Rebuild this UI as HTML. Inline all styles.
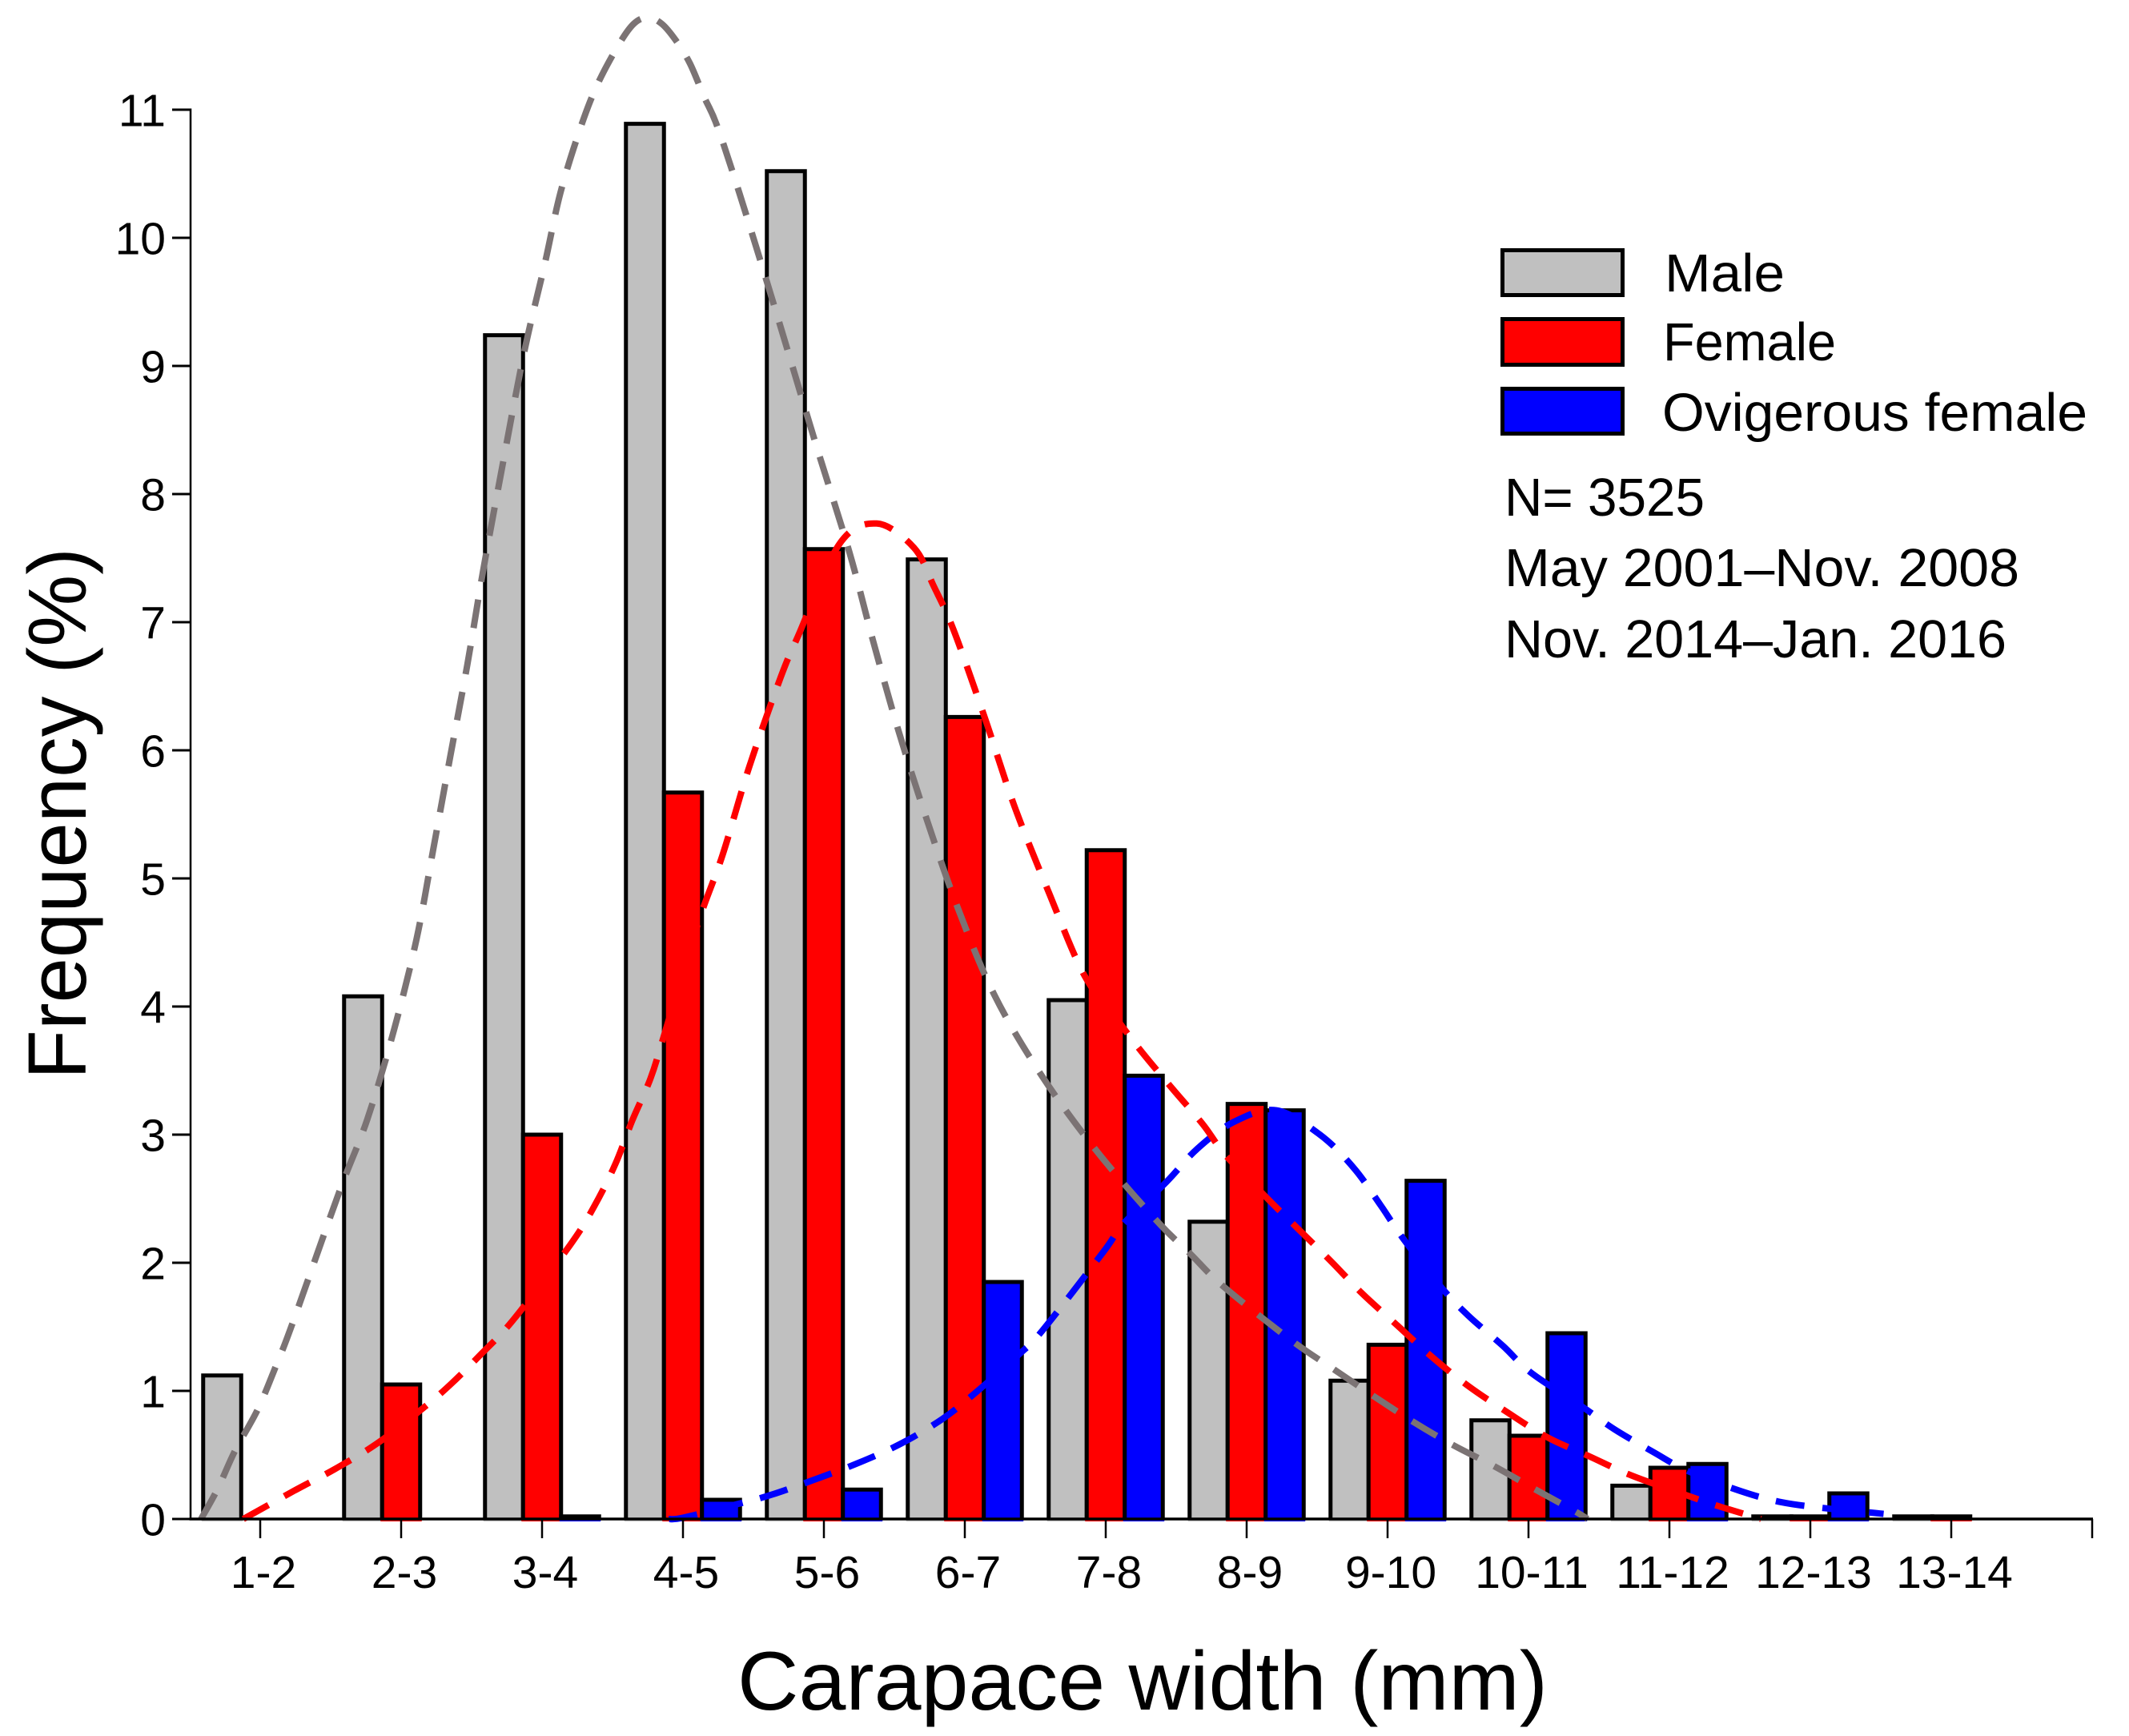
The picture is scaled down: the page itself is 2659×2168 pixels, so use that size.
<!DOCTYPE html>
<html lang="en">
<head>
<meta charset="utf-8">
<title>Carapace width frequency</title>
<style>
html,body{margin:0;padding:0;background:#fff;}
svg{display:block;}
text{fill:#000;}
.tick{font-family:"Liberation Sans",Arial,sans-serif;font-size:57px;}
.cal{font-family:"Liberation Sans",Arial,sans-serif;}
</style>
</head>
<body>
<svg id="chart" xmlns="http://www.w3.org/2000/svg" width="2659" height="2168" viewBox="0 0 2659 2168">
  <rect x="0" y="0" width="2659" height="2168" fill="#fff"/>
  <g id="bars"></g>
  <g id="curves"></g>
  <g id="axes"></g>

  <text class="cal" transform="translate(107,1348) rotate(-90)" font-size="103" textLength="664" lengthAdjust="spacingAndGlyphs">Frequency (%)</text>
  <text class="cal" x="921" y="2135" font-size="104" textLength="1012" lengthAdjust="spacingAndGlyphs">Carapace width (mm)</text>

  <g>
    <rect x="1876.5" y="312.5" width="150" height="56" fill="#c0c0c0" stroke="#000" stroke-width="5"/>
    <rect x="1876.5" y="398.5" width="150" height="57" fill="#ff0000" stroke="#000" stroke-width="5"/>
    <rect x="1876.5" y="485.5" width="150" height="56" fill="#0000ff" stroke="#000" stroke-width="5"/>
    <text class="cal" x="2079" y="364" font-size="67" textLength="150" lengthAdjust="spacingAndGlyphs">Male</text>
    <text class="cal" x="2077" y="450" font-size="67" textLength="216" lengthAdjust="spacingAndGlyphs">Female</text>
    <text class="cal" x="2076" y="538" font-size="67" textLength="531" lengthAdjust="spacingAndGlyphs">Ovigerous female</text>
  </g>
  <g>
    <text class="cal" x="1879" y="644" font-size="67" textLength="250" lengthAdjust="spacingAndGlyphs">N= 3525</text>
    <text class="cal" x="1879" y="732" font-size="67" textLength="643" lengthAdjust="spacingAndGlyphs">May 2001–Nov. 2008</text>
    <text class="cal" x="1879" y="821" font-size="67" textLength="627" lengthAdjust="spacingAndGlyphs">Nov. 2014–Jan. 2016</text>
  </g>
</svg>
<script>
const categories = ['1-2','2-3','3-4','4-5','5-6','6-7','7-8','8-9','9-10','10-11','11-12','12-13','13-14'];
const yTicks = [0,1,2,3,4,5,6,7,8,9,10,11];
const maleValues = [1.12,4.08,9.24,10.89,10.52,7.49,4.05,2.32,1.08,0.77,0.26,0.02,0.02];
const femaleValues = [0,1.05,3.0,5.67,7.57,6.26,5.22,3.24,1.36,0.65,0.4,0.02,0.02];
const ovigerousValues = [0,0,0.02,0.15,0.23,1.85,3.46,3.19,2.64,1.45,0.43,0.2,0];

const maleCurveX = [-0.42,-0.3,-0.18,-0.02,0.11,0.23,0.56,0.76,0.95,1.11,1.23,1.35,1.47,1.58,1.7,1.87,2.02,2.13,2.27,2.39,2.54,2.65,2.75,2.85,2.95,3.05,3.15,3.24,3.4,3.65,3.94,4.18,4.35,4.53,4.73,4.95,5.21,5.54,5.93,6.36,6.6,6.83,7.31,7.63,7.9,8.18,8.46,8.76,9.05,9.33,9.42];
const maleCurveY = [0,0.24,0.53,0.85,1.19,1.53,2.55,3.12,3.82,4.53,5.24,5.96,6.67,7.39,8.11,9.09,9.8,10.35,10.85,11.19,11.5,11.67,11.72,11.67,11.54,11.36,11.1,10.88,10.35,9.46,8.4,7.55,6.85,6.15,5.46,4.77,4.09,3.47,2.88,2.33,2.07,1.82,1.4,1.16,0.96,0.76,0.58,0.41,0.23,0.06,0];

const femaleCurveX = [-0.12,0.24,0.53,0.83,1.15,1.35,1.57,1.8,2.2,2.37,2.52,2.64,2.77,2.87,3.11,3.28,3.47,3.69,3.82,4.11,4.375,4.64,4.78,4.92,5.14,5.35,5.6,5.85,6.1,6.26,6.48,6.69,6.85,7.14,7.36,7.6,7.82,8.07,8.31,8.57,8.84,9.13,9.43,9.73,10.11,10.35,10.65];
const femaleCurveY = [0,0.22,0.39,0.59,0.86,1.05,1.29,1.56,2.14,2.44,2.77,3.11,3.44,3.79,4.66,5.18,5.87,6.56,6.9,7.61,7.77,7.58,7.28,6.94,6.26,5.57,4.88,4.24,3.87,3.64,3.35,3.08,2.84,2.51,2.27,2.01,1.76,1.51,1.27,1.04,0.84,0.64,0.49,0.34,0.19,0.1,0];

const ovigerousCurveX = [2.9,3.0,3.4,3.63,3.94,4.25,4.55,4.84,5.07,5.39,5.55,5.98,6.13,6.43,6.65,6.91,7.21,7.52,7.76,7.95,8.11,8.38,8.57,8.82,9.02,9.39,9.61,9.89,10.13,10.5,10.8,11.14,11.43,11.52];
const ovigerousCurveY = [0,0.01,0.12,0.19,0.31,0.44,0.59,0.78,0.98,1.29,1.47,2.08,2.31,2.63,2.89,3.1,3.19,3.0,2.74,2.45,2.19,1.81,1.59,1.35,1.14,0.87,0.7,0.52,0.375,0.22,0.13,0.08,0.05,0.04];

const NS = 'http://www.w3.org/2000/svg';
function xScale(c){ return 325 + 176 * c; }
function yScale(v){ return 1897 - 160 * v; }
const barStep = 47.5;
function mk(tag, attrs, parent){
  const el = document.createElementNS(NS, tag);
  for (const k in attrs) el.setAttribute(k, attrs[k]);
  parent.appendChild(el);
  return el;
}
const barsG = document.getElementById('bars');
const curvesG = document.getElementById('curves');
const axesG = document.getElementById('axes');

function drawBars(values, offset, color, label){
  values.forEach(function(v, i){
    if (!v) return;
    const cx = xScale(i) + offset * barStep;
    const l = cx - barStep / 2, r = cx + barStep / 2;
    const top = yScale(v), base = yScale(0);
    const group = mk('g', {}, barsG);
    
    
    const fill = mk('rect', {x:l - 2, y:top - 2, width:r - l + 4, height:base - top + 5, fill:color}, group);
    
    
    const edge = mk('path', {d:'M' + l + ' ' + base + 'V' + top + 'H' + r + 'V' + base, fill:'none', stroke:'#000', 'stroke-width':5, 'stroke-linejoin':'miter'}, group);
    
    
  });
}
drawBars(maleValues, -1, '#c0c0c0', 'male');
drawBars(femaleValues, 0, '#ff0000', 'female');
drawBars(ovigerousValues, 1, '#0000ff', 'ovigerous');

function curvePath(xs, ys){
  const p = xs.map(function(x, i){ return [xScale(x), yScale(ys[i])]; });
  let d = 'M' + p[0][0] + ' ' + p[0][1];
  for (let i = 0; i < p.length - 1; i++){
    const a = p[Math.max(i - 1, 0)], b = p[i], c = p[i + 1], e = p[Math.min(i + 2, p.length - 1)];
    const c1x = b[0] + (c[0] - a[0]) / 6, c1y = b[1] + (c[1] - a[1]) / 6;
    const c2x = c[0] - (e[0] - b[0]) / 6, c2y = c[1] - (e[1] - b[1]) / 6;
    d += 'C' + c1x + ' ' + c1y + ' ' + c2x + ' ' + c2y + ' ' + c[0] + ' ' + c[1];
  }
  return d;
}
function drawCurve(xs, ys, color){
  return mk('path', {d:curvePath(xs, ys), fill:'none', stroke:color, 'stroke-width':8, 'stroke-dasharray':'36 22.5'}, curvesG);
}
const ovigerousCurve = drawCurve(ovigerousCurveX, ovigerousCurveY, '#0000ff');


const maleCurve = drawCurve(maleCurveX, maleCurveY, '#7b7374');


const femaleCurve = drawCurve(femaleCurveX, femaleCurveY, '#ff0000');



const xAxisLine = mk('line', {x1:236.5, x2:xScale(13) + 1, y1:yScale(0), y2:yScale(0), stroke:'#000', 'stroke-width':3.5}, axesG);


const yAxisLine = mk('line', {x1:238, x2:238, y1:yScale(11) - 1.5, y2:yScale(0) + 1.5, stroke:'#000', 'stroke-width':2.5}, axesG);



yTicks.forEach(function(t){
  const y = yScale(t);
  const tk = mk('line', {x1:215, x2:238, y1:y, y2:y, stroke:'#000', 'stroke-width':3}, axesG);
  
  
  const lb = mk('text', {x:207, y:y + 20.5, 'text-anchor':'end', class:'tick'}, axesG);
  
  
  lb.textContent = String(t);
});
categories.concat(['']).forEach(function(c, i){
  const x = xScale(i);
  const tk = mk('line', {x1:x, x2:x, y1:yScale(0), y2:1921, stroke:'#000', 'stroke-width':2.5}, axesG);
  
  
  if (c){
    const lb = mk('text', {x:x + 4, y:1983, 'text-anchor':'middle', class:'tick'}, axesG);
    
    
    lb.textContent = c;
  }
});
</script>
</body>
</html>
